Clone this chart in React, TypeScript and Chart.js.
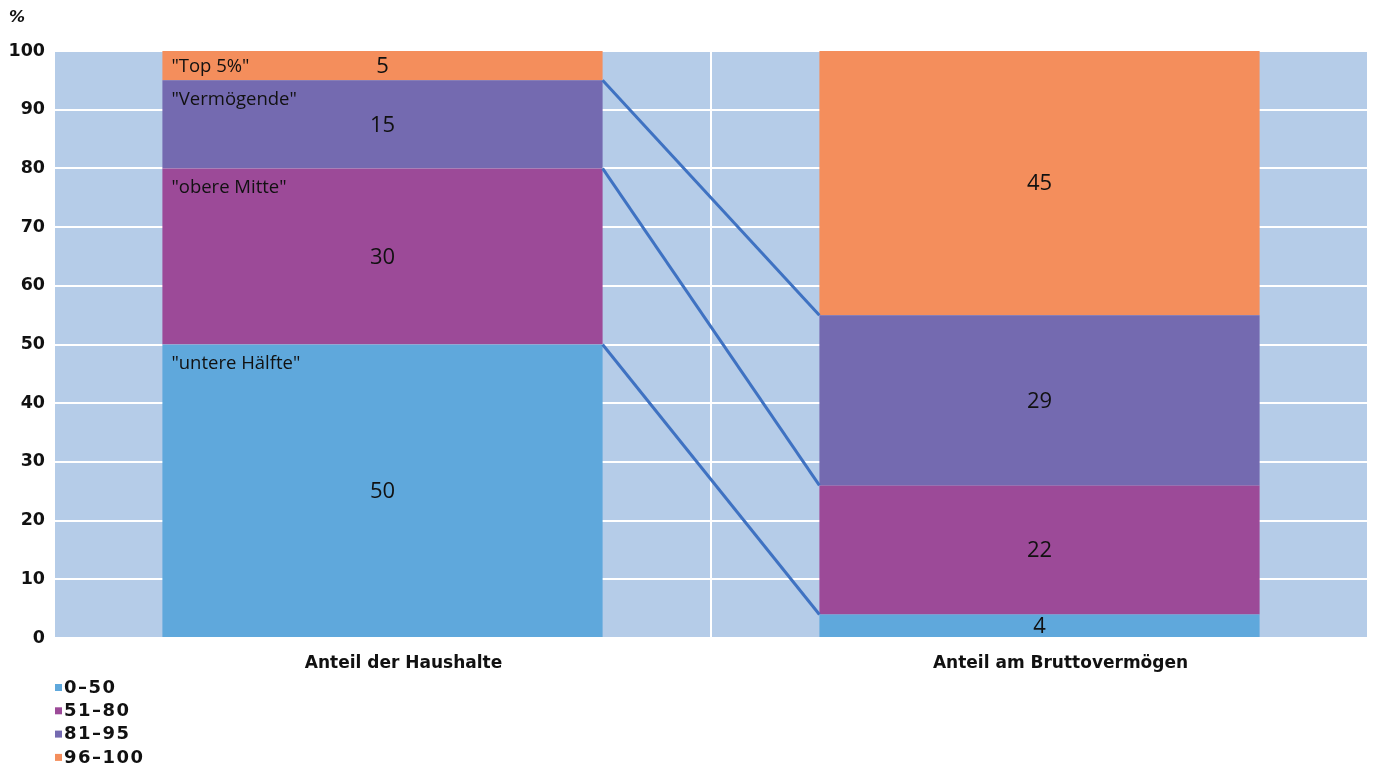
import React, { useEffect, useRef } from "react";
import { Chart, registerables } from "chart.js";

Chart.register(...registerables);

const categories = ["Anteil der Haushalte", "Anteil am Bruttovermögen"];
const seriesLabels = ["0–50", "51–80", "81–95", "96–100"];
const lowerHalf = [50, 4];
const upperMiddle = [30, 22];
const wealthy = [15, 29];
const top5 = [5, 45];
const groupNames = ['"untere Hälfte"', '"obere Mitte"', '"Vermögende"', '"Top 5%"'];
const seriesColors = ["#5fa8dc", "#9c4a98", "#746ab0", "#f48e5c"];
const yTickValues = [0, 10, 20, 30, 40, 50, 60, 70, 80, 90, 100];

const FONT = "'Open Sans', 'DejaVu Sans', sans-serif";
const BOLD_FONT = "'DejaVu Sans', sans-serif";

export default function App() {
  const ref = useRef<HTMLCanvasElement | null>(null);

  useEffect(() => {
    const canvas = ref.current;
    if (!canvas) return;
    document.body.style.margin = "0";

    const bgPlugin = {
      id: "bg",
      beforeDraw(chart: any) {
        const { ctx, chartArea } = chart;
        ctx.save();
        ctx.fillStyle = "#ffffff";
        ctx.fillRect(0, 0, chart.width, chart.height);
        ctx.fillStyle = "#b5cce8";
        ctx.fillRect(chartArea.left, chartArea.top, chartArea.right - chartArea.left, chartArea.bottom - chartArea.top);
        ctx.restore();
      },
    };

    const overlayPlugin = {
      id: "overlay",
      afterDatasetsDraw(chart: any) {
        const { ctx } = chart;
        ctx.save();
        // connectors
        ctx.strokeStyle = "#3f72c2";
        ctx.lineWidth = 3;
        for (let d = 0; d < 3; d++) {
          const meta = chart.getDatasetMeta(d);
          const l = meta.data[0] as any;
          const r = meta.data[1] as any;
          ctx.beginPath();
          ctx.moveTo(l.x + l.width / 2, l.y);
          ctx.lineTo(r.x - r.width / 2, r.y);
          ctx.stroke();
        }
        // values
        ctx.fillStyle = "#111";
        ctx.textAlign = "center";
        ctx.textBaseline = "middle";
        ctx.font = `22px ${FONT}`;
        chart.data.datasets.forEach((ds: any, d: number) => {
          const meta = chart.getDatasetMeta(d);
          meta.data.forEach((el: any, i: number) => {
            const cy = (el.y + el.base) / 2;
            ctx.fillText(String(ds.data[i]), el.x, cy + 1);
          });
        });
        // group names on left bar
        ctx.textAlign = "left";
        ctx.font = `18.5px ${FONT}`;
        groupNames.forEach((name, d) => {
          const el = chart.getDatasetMeta(d).data[0] as any;
          const top = el.y;
          const cy = (el.y + el.base) / 2;
          const y = Math.min(top + 19, cy + 1);
          ctx.fillText(name, el.x - el.width / 2 + 9, y);
        });
        // percent sign
        ctx.font = `italic bold 16px ${BOLD_FONT}`;
        ctx.fillText("%", 9, 18);
        // legend
        ctx.font = `bold 18px ${BOLD_FONT}`;
        (ctx as any).letterSpacing = "1.5px";
        seriesLabels.forEach((lab, d) => {
          const y = 687 + d * 23.3;
          ctx.fillStyle = seriesColors[d];
          ctx.fillRect(55, y - 3, 7, 7);
          ctx.fillStyle = "#111";
          ctx.fillText(lab, 64, y + 1);
        });
        ctx.restore();
      },
    };

    const chart = new Chart(canvas, {
      type: "bar",
      data: {
        labels: categories,
        datasets: [lowerHalf, upperMiddle, wealthy, top5].map((data, d) => ({
          label: seriesLabels[d],
          data,
          backgroundColor: seriesColors[d],
          borderWidth: 0,
          barPercentage: 1,
          categoryPercentage: 0.67,
        })),
      },
      options: {
        responsive: false,
        animation: false,
        layout: { padding: { top: 51, right: 9, bottom: 89, left: 0 } },
        plugins: { legend: { display: false }, tooltip: { enabled: false } },
        scales: {
          x: {
            stacked: true,
            grid: { color: "#ffffff", lineWidth: 2, drawTicks: false },
            border: { display: false },
            ticks: { color: "#111", padding: 15, labelOffset: 21, font: { family: BOLD_FONT, size: 17, weight: "bold" } },
            afterFit(scale: any) {
              scale.height = 40;
            },
          },
          y: {
            stacked: true,
            min: 0,
            max: 100,
            afterBuildTicks(scale: any) {
              scale.ticks = yTickValues.map((v) => ({ value: v }));
            },
            grid: { color: "#ffffff", lineWidth: 2, drawTicks: false },
            border: { display: false },
            ticks: { color: "#111", padding: 9, font: { family: BOLD_FONT, size: 17.5, weight: "bold" } },
            afterFit(scale: any) {
              scale.width = 54;
            },
          },
        },
      },
      plugins: [bgPlugin, overlayPlugin],
    });
    return () => chart.destroy();
  }, []);

  return (
    <div style={{ position: "absolute", left: 0, top: 0, width: 1377, height: 767 }}>
      <canvas ref={ref} width={1377} height={767} />
    </div>
  );
}
